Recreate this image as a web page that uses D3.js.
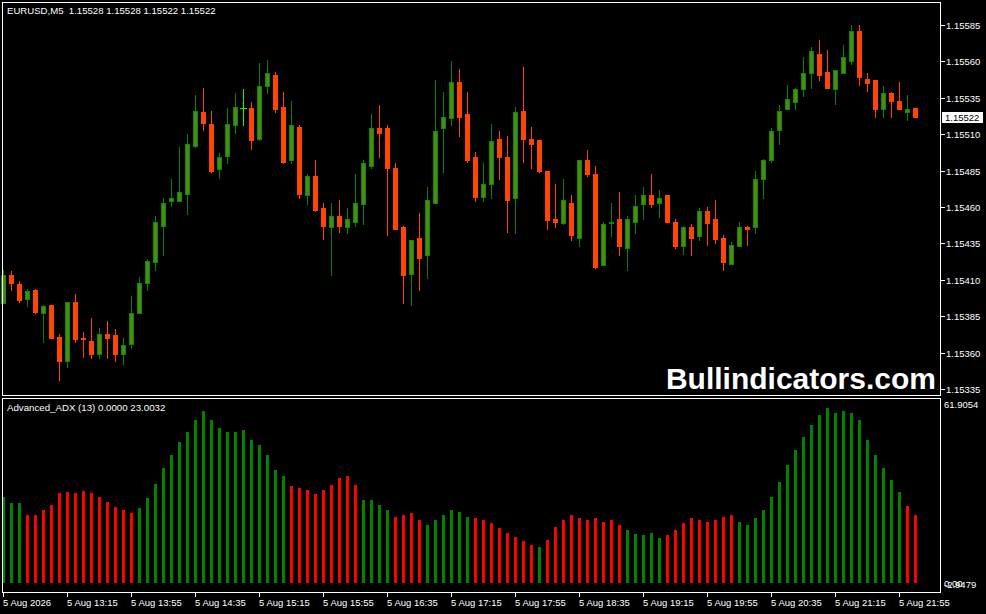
<!DOCTYPE html>
<html><head><meta charset="utf-8">
<script src="https://cdn.jsdelivr.net/npm/d3@7"></script>
<style>
html,body{margin:0;padding:0;background:#000;}
svg{display:block;}
text{font-family:"Liberation Sans",Arial,sans-serif;white-space:pre;}
</style></head>
<body>
<svg id="c" width="986" height="614"></svg>
<script>
// ---- DATA ----
const symbolTitle = "EURUSD,M5  1.15528 1.15528 1.15522 1.15522";
const indicatorTitle = "Advanced_ADX (13) 0.0000 23.0032";
const watermark = "Bullindicators.com";
const lastPrice = 1.15522;

const open = [1.15394,1.15413,1.15407,1.15397,1.15403,1.15387,1.15393,1.15371,1.15354,1.15395,1.15370,1.15368,1.15359,1.15373,1.15372,1.15359,1.15366,1.15387,1.15408,1.15422,1.15447,1.15464,1.15464,1.15469,1.15502,1.15525,1.15517,1.15486,1.15495,1.15516,1.15528,1.15528,1.15507,1.15543,1.15551,1.15529,1.15492,1.15515,1.15468,1.15481,1.15459,1.15446,1.15454,1.15446,1.15450,1.15462,1.15488,1.15514,1.15514,1.15487,1.15446,1.15414,1.15439,1.15427,1.15463,1.15514,1.15521,1.15546,1.15524,1.15494,1.15467,1.15476,1.15507,1.15494,1.15466,1.15526,1.15507,1.15506,1.15485,1.15452,1.15449,1.15463,1.15439,1.15492,1.15483,1.15420,1.15449,1.15452,1.15432,1.15450,1.15462,1.15468,1.15463,1.15468,1.15450,1.15433,1.15446,1.15440,1.15457,1.15452,1.15439,1.15421,1.15433,1.15446,1.15446,1.15479,1.15492,1.15513,1.15527,1.15532,1.15541,1.15552,1.15565,1.15553,1.15541,1.15552,1.15560,1.15581,1.15548,1.15547,1.15527,1.15538,1.15533,1.15525,1.15528];
const high = [1.15417,1.15416,1.15409,1.15404,1.15404,1.15393,1.15393,1.15373,1.15395,1.15400,1.15374,1.15384,1.15377,1.15382,1.15376,1.15370,1.15399,1.15412,1.15424,1.15454,1.15466,1.15479,1.15501,1.15510,1.15537,1.15542,1.15526,1.15497,1.15528,1.15538,1.15541,1.15532,1.15559,1.15561,1.15553,1.15539,1.15533,1.15516,1.15483,1.15492,1.15463,1.15463,1.15465,1.15459,1.15483,1.15492,1.15524,1.15530,1.15516,1.15490,1.15447,1.15437,1.15456,1.15474,1.15547,1.15539,1.15560,1.15555,1.15539,1.15498,1.15490,1.15517,1.15512,1.15509,1.15529,1.15556,1.15515,1.15506,1.15485,1.15476,1.15479,1.15468,1.15492,1.15499,1.15488,1.15450,1.15463,1.15470,1.15454,1.15468,1.15474,1.15483,1.15472,1.15468,1.15452,1.15447,1.15448,1.15459,1.15460,1.15465,1.15441,1.15436,1.15450,1.15447,1.15485,1.15493,1.15514,1.15530,1.15544,1.15542,1.15563,1.15570,1.15575,1.15568,1.15554,1.15571,1.15585,1.15585,1.15552,1.15547,1.15543,1.15539,1.15546,1.15537,1.15528];
const low = [1.15394,1.15403,1.15395,1.15392,1.15387,1.15367,1.15370,1.15341,1.15350,1.15367,1.15357,1.15356,1.15356,1.15356,1.15354,1.15352,1.15363,1.15387,1.15403,1.15417,1.15427,1.15461,1.15464,1.15455,1.15501,1.15513,1.15484,1.15480,1.15490,1.15511,1.15516,1.15500,1.15506,1.15538,1.15525,1.15490,1.15490,1.15466,1.15462,1.15457,1.15438,1.15413,1.15443,1.15442,1.15447,1.15448,1.15487,1.15494,1.15441,1.15445,1.15394,1.15393,1.15403,1.15411,1.15463,1.15484,1.15516,1.15509,1.15491,1.15464,1.15464,1.15466,1.15479,1.15443,1.15442,1.15491,1.15487,1.15484,1.15445,1.15446,1.15448,1.15437,1.15433,1.15481,1.15418,1.15420,1.15440,1.15427,1.15417,1.15442,1.15452,1.15460,1.15453,1.15450,1.15432,1.15428,1.15427,1.15437,1.15434,1.15435,1.15417,1.15421,1.15433,1.15434,1.15442,1.15466,1.15491,1.15503,1.15527,1.15527,1.15536,1.15542,1.15547,1.15542,1.15531,1.15552,1.15558,1.15544,1.15540,1.15522,1.15522,1.15522,1.15527,1.15520,1.15522];
const close = [1.15413,1.15408,1.15396,1.15402,1.15388,1.15392,1.15370,1.15354,1.15395,1.15369,1.15369,1.15359,1.15373,1.15370,1.15359,1.15365,1.15387,1.15408,1.15423,1.15450,1.15463,1.15466,1.15470,1.15503,1.15526,1.15518,1.15485,1.15494,1.15517,1.15529,1.15528,1.15506,1.15543,1.15552,1.15527,1.15491,1.15516,1.15469,1.15481,1.15458,1.15447,1.15454,1.15447,1.15452,1.15463,1.15490,1.15514,1.15511,1.15487,1.15445,1.15413,1.15437,1.15425,1.15465,1.15512,1.15522,1.15546,1.15522,1.15492,1.15467,1.15476,1.15505,1.15494,1.15465,1.15525,1.15507,1.15503,1.15485,1.15451,1.15450,1.15465,1.15441,1.15492,1.15483,1.15419,1.15448,1.15450,1.15433,1.15452,1.15461,1.15468,1.15462,1.15466,1.15450,1.15433,1.15446,1.15439,1.15457,1.15449,1.15438,1.15422,1.15434,1.15446,1.15445,1.15479,1.15492,1.15512,1.15526,1.15534,1.15541,1.15552,1.15567,1.15551,1.15542,1.15554,1.15563,1.15581,1.15549,1.15545,1.15527,1.15538,1.15533,1.15527,1.15527,1.15522];

// Advanced_ADX histogram value and colour flag (g = up, r = down)
const adx = [28.8,26.8,26.8,22.7,22.7,24.4,26.1,30.1,30.4,30.1,30.8,30.1,28.8,27.1,25.4,24.4,23.4,
  25.1,28.4,33.1,38.5,42.8,47.2,50.5,54.5,57.5,54.5,51.8,50.5,50.5,51.2,47.8,46.2,42.8,37.8,35.8,
  32.4,31.8,31.1,29.8,31.1,32.8,35.1,35.8,32.8,
  27.8,27.8,26.1,24.4,
  22.1,22.7,23.4,21.1,
  19.4,21.1,22.7,24.4,23.7,22.1,
  21.7,21.1,20.1,18.4,16.7,15.4,14.0,12.7,
  12.1,
  14.4,18.7,21.1,22.8,21.7,21.1,21.7,20.4,21.1,19.4,
  17.7,16.4,16.1,16.7,15.1,
  16.1,17.7,20.1,21.7,21.1,20.4,21.1,22.1,22.7,
  20.4,19.4,21.7,24.4,28.8,33.8,39.5,44.5,48.8,52.8,56.2,58.5,56.9,57.5,56.9,54.5,47.8,42.8,38.5,34.4,30.4,
  25.8,22.7];
const adxDir = ("ggg" + "rrrrrrrrrrrrrr" + "ggggggggggggggggggg" + "rrrrrrrrr" + "gggg" + "rrrr" +
  "gggggg" + "rrrrrrrr" + "g" + "rrrrrrrrrr" + "ggggg" + "rrrrrrrrr" + "ggggggggggggggggggggg" + "rr").split("");

const priceTicks = [1.15585,1.15560,1.15535,1.15510,1.15485,1.15460,1.15435,1.15410,1.15385,1.15360,1.15335];
const adxScaleMax = 61.9054, adxScaleMin = -2.9479;
const startTime = new Date(2026, 7, 5, 12, 35);
const barMinutes = 5;
const timeTickEvery = 8;

// ---- LAYOUT ----
const svg = d3.select("#c");
const W = 986, H = 614;
const L = 2, R = 940;
const topP = {y0: 2, y1: 395};
const botP = {y0: 398, y1: 592};
const n = open.length;

const x = d3.scaleLinear().domain([0, 114]).range([3, 915]);
const y = d3.scaleLinear().domain([1.15335, 1.15585]).range([389, 25]);
const ya = d3.scaleLinear().domain([adxScaleMin, adxScaleMax]).range([botP.y1, botP.y0]);

const BULL_FILL = "#4c8a13", BULL_EDGE = "#0c8c00", BULL_WICK = "#0a8000";
const BEAR = "#ff4500", DOJI = "#00ff00";
const HG = "#008400", HR = "#ff0000";
const AX_FS = 9.5;

svg.append("rect").attr("width", W).attr("height", H).attr("fill", "#000");

// candles
const cg = svg.append("g");
d3.range(n).forEach(i => {
  const o = open[i], c = close[i], h = high[i], l = low[i];
  const cx = Math.round(x(i)) + 0.5;
  const col = o === c ? DOJI : (c > o ? BULL_WICK : BEAR);
  cg.append("line").attr("x1", cx).attr("x2", cx)
    .attr("y1", Math.round(y(h))).attr("y2", Math.round(y(l)) + 1)
    .attr("stroke", col).attr("stroke-width", 1);
  const yt = Math.round(y(Math.max(o, c))), yb = Math.round(y(Math.min(o, c)));
  if (o === c) {
    cg.append("rect").attr("x", cx - 3.5).attr("y", yt).attr("width", 7).attr("height", 1).attr("fill", DOJI);
  } else if (c > o) {
    cg.append("rect").attr("x", cx - 2).attr("y", yt + 0.5).attr("width", 4).attr("height", Math.max(1, yb - yt))
      .attr("fill", BULL_FILL).attr("stroke", BULL_EDGE).attr("stroke-width", 1);
  } else {
    cg.append("rect").attr("x", cx - 2.5).attr("y", yt).attr("width", 5).attr("height", Math.max(2, yb - yt + 1))
      .attr("fill", BEAR);
  }
});

// histogram
const hg = svg.append("g");
d3.range(n).forEach(i => {
  const cx = Math.round(x(i));
  const yt = Math.round(ya(adx[i])), y0 = Math.round(ya(0));
  hg.append("rect").attr("x", cx - 1).attr("y", yt).attr("width", 3).attr("height", y0 - yt)
    .attr("fill", adxDir[i] === "g" ? HG : HR);
});

// frames
const fr = svg.append("g").attr("fill", "none").attr("stroke", "#fff").attr("stroke-width", 1).attr("shape-rendering", "crispEdges");
fr.append("rect").attr("x", L + 0.5).attr("y", topP.y0 + 0.5).attr("width", R - L).attr("height", topP.y1 - topP.y0);
fr.append("rect").attr("x", L + 0.5).attr("y", botP.y0 + 0.5).attr("width", R - L).attr("height", botP.y1 - botP.y0);

// price axis
const pa = svg.append("g").attr("fill", "#fff").attr("font-size", AX_FS);
priceTicks.forEach(p => {
  const yy = Math.round(y(p)) + 0.5;
  pa.append("line").attr("x1", R + 1).attr("x2", R + 5).attr("y1", yy).attr("y2", yy).attr("stroke", "#fff").attr("shape-rendering", "crispEdges");
  pa.append("text").attr("x", 946).attr("y", yy + 3.5).text(p.toFixed(5));
});
// current price label
const ly = Math.round(y(lastPrice));
svg.append("rect").attr("x", 942).attr("y", ly - 5).attr("width", 41).attr("height", 11).attr("fill", "#fff");
svg.append("text").attr("x", 945).attr("y", ly + 4).attr("font-size", AX_FS).attr("fill", "#000").text(lastPrice.toFixed(5));

// indicator axis labels
const ia = svg.append("g").attr("fill", "#fff").attr("font-size", AX_FS);
ia.append("text").attr("x", 944).attr("y", botP.y0 + 10).text(adxScaleMax.toFixed(4));
ia.append("text").attr("x", 944).attr("y", Math.round(ya(0)) + 4).text("0.00");
ia.append("text").attr("x", 944).attr("y", Math.round(ya(0)) + 5).text(adxScaleMin.toFixed(4));

// time axis
const ta = svg.append("g").attr("fill", "#fff").attr("font-size", AX_FS);
const fmtT = d3.timeFormat("%H:%M");
for (let i = 0; i < n; i += timeTickEvery) {
  const xx = Math.round(x(i)) + 0.5;
  ta.append("line").attr("x1", xx).attr("x2", xx).attr("y1", botP.y1).attr("y2", botP.y1 + 5).attr("stroke", "#fff").attr("shape-rendering", "crispEdges");
  const t = new Date(startTime.getTime() + i * barMinutes * 60000);
  ta.append("text").attr("x", xx - 0.5).attr("y", 606).text(i === 0 ? "5 Aug 2026" : "5 Aug " + fmtT(t));
}

// titles
svg.append("text").attr("x", 7).attr("y", 14).attr("font-size", 9.6).attr("fill", "#fff").text(symbolTitle);
svg.append("text").attr("x", 7).attr("y", 411).attr("font-size", 9.7).attr("fill", "#fff").text(indicatorTitle);
svg.append("text").attr("x", 936).attr("y", 389).attr("text-anchor", "end").attr("font-size", 30).attr("font-weight", "bold").attr("fill", "#fff").text(watermark);
</script>
</body></html>
